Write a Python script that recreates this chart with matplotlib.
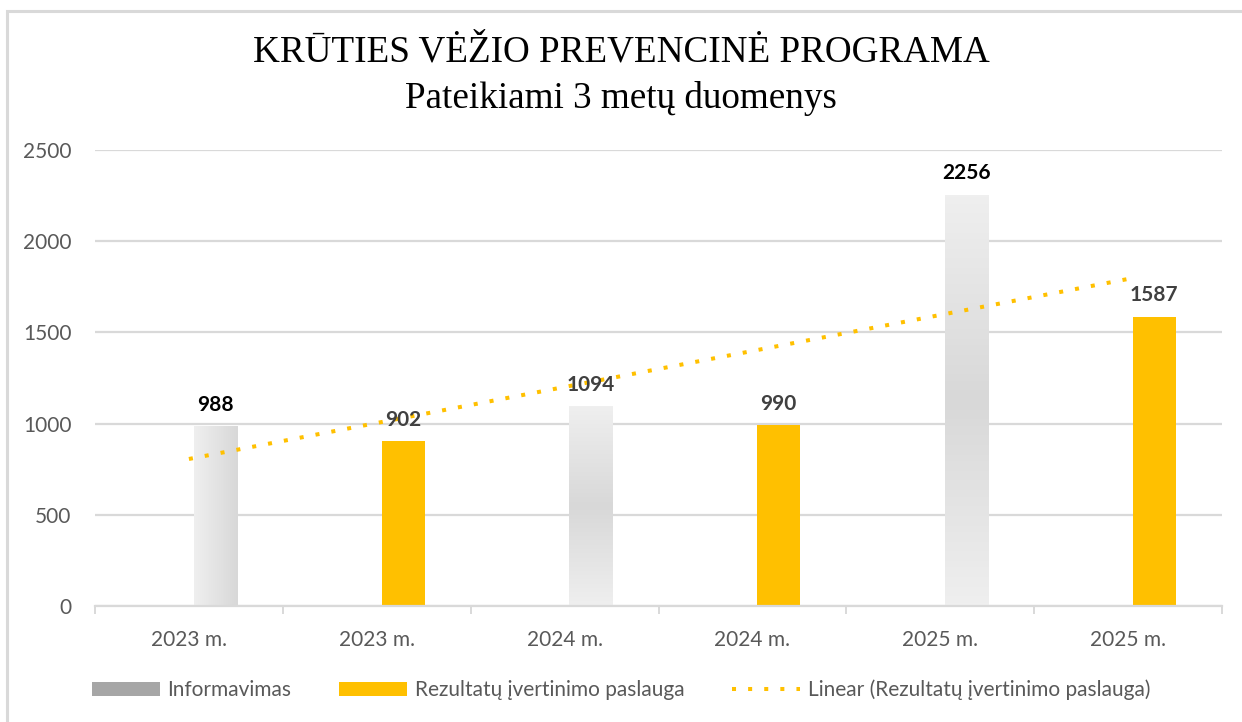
import numpy as np
import matplotlib
matplotlib.use("Agg")
import matplotlib.pyplot as plt
from matplotlib.patches import Patch, Rectangle
from matplotlib.lines import Line2D

# data
categories = ["2023 m.", "2023 m.", "2024 m.", "2024 m.", "2025 m.", "2025 m."]
informavimas = [988, None, 1094, None, 2256, None]
rezultatai = [None, 902, None, 990, None, 1587]
trend_start = 806   # linear trendline value at first category
trend_end = 1793    # linear trendline value at last category

grey = "#a6a6a6"
orange = "#ffc000"
text_col = "#595959"
grid_col = "#d9d9d9"

plt.rcParams["font.family"] = ["Lato", "DejaVu Sans"]

fig = plt.figure(figsize=(12.42, 7.22), dpi=100)
ax = fig.add_axes([95 / 1242, 116 / 722, 1127 / 1242, 456 / 722])

# outer chart border (only top and left visible in the crop)
fig.patches.append(Rectangle((7 / 1242, -0.1), 1.2, (722 - 11) / 722 + 0.1,
                             transform=fig.transFigure, fill=False,
                             edgecolor="#d9d9d9", linewidth=2.2))

x = np.arange(len(categories))
w = 0.229
off = 0.14

# gradients for grey bars
light = np.array([0xef, 0xef, 0xef]) / 255
dark = np.array([0xd8, 0xd8, 0xd8]) / 255
for i, v in enumerate(informavimas):
    if v is None:
        continue
    bar = ax.bar(x[i] + off, v, w, color="none", edgecolor="none", zorder=2)[0]
    if i == 0:
        t = np.linspace(0, 1, 64)[None, :]
    else:
        t = 1 - np.abs(np.linspace(-1, 1, 128))[:, None]
    img = light + (dark - light) * t[..., None]
    im = ax.imshow(img, extent=(x[i] + off - w / 2, x[i] + off + w / 2, 0, v),
                   aspect="auto", origin="upper", zorder=2)
    im.set_clip_path(bar)
    ax.annotate(str(v), (x[i] + off, v), xytext=(0, 8), textcoords="offset points",
                ha="center", va="bottom", fontsize=15, fontweight="bold",
                color="#000000" if i != 2 else "#404040", zorder=4)

for i, v in enumerate(rezultatai):
    if v is None:
        continue
    ax.bar(x[i] + off, v, w, color=orange, zorder=2)
    ax.annotate(str(v), (x[i] + off, v), xytext=(0, 8), textcoords="offset points",
                ha="center", va="bottom", fontsize=15, fontweight="bold",
                color="#404040", zorder=4)

ax.plot([x[0], x[-1]], [trend_start, trend_end], color=orange, lw=2.9,
        linestyle=(0, (1, 3)), dash_capstyle="butt", zorder=3)

ax.set_xlim(-0.5, 5.5)
ax.set_ylim(0, 2500)
ax.set_yticks(np.arange(0, 2501, 500))
ax.yaxis.grid(True, color=grid_col, linewidth=1.6, zorder=0)
ax.set_axisbelow(True)
ax.set_xticks(x)
ax.set_xticklabels(categories)
ax.set_xticks(np.arange(-0.5, 6, 1), minor=True)
ax.tick_params(axis="x", which="major", length=0, pad=17, labelsize=15, labelcolor=text_col)
ax.tick_params(axis="x", which="minor", length=6, width=1.4, color=grid_col)
ax.tick_params(axis="y", length=0, pad=17, labelsize=15, labelcolor=text_col)
for s in ["top", "right", "left"]:
    ax.spines[s].set_visible(False)
ax.spines["bottom"].set_color(grid_col)
ax.spines["bottom"].set_linewidth(1.6)

fig.text(0.5, 1 - 52 / 722, "KRŪTIES VĖŽIO PREVENCINĖ PROGRAMA", ha="center", va="center",
         fontsize=26.7, family="Liberation Serif", color="#000000")
fig.text(0.5, 1 - 98 / 722, "Pateikiami 3 metų duomenys", ha="center", va="center",
         fontsize=26.7, family="Liberation Serif", color="#000000")

handles = [Patch(facecolor=grey, edgecolor="none"),
           Patch(facecolor=orange, edgecolor="none"),
           Line2D([0], [0], color=orange, lw=2.9, linestyle=(0, (1, 3)), dash_capstyle="butt")]
labels = ["Informavimas", "Rezultatų įvertinimo paslauga", "Linear (Rezultatų įvertinimo paslauga)"]
fig.legend(handles, labels, loc="center", bbox_to_anchor=(0.5, 1 - 690 / 722), ncol=3,
           frameon=False, fontsize=15, labelcolor=text_col, handlelength=3.27,
           handleheight=0.72, handletextpad=0.35, columnspacing=2.3)

fig.savefig("out.png", dpi=100)
